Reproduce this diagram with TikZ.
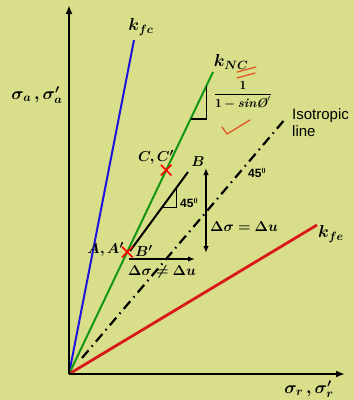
\documentclass[tikz,border=0pt]{standalone}
\usepackage{amsmath}
\usepackage{fontspec}
\usepackage{bm}
\newfontfamily\arial{Liberation Sans}
\usetikzlibrary{arrows.meta,calc,shapes.misc}
\definecolor{bg}{RGB}{217,222,138}
\definecolor{kblue}{RGB}{30,20,220}
\definecolor{kgreen}{RGB}{20,150,20}
\definecolor{kred}{RGB}{215,25,25}
\definecolor{pen}{RGB}{225,85,40}
\begin{document}
\begin{tikzpicture}[x=1pt,y=-1pt,
  lbl/.style={font=\fontsize{15}{17}\selectfont, inner sep=0pt},
  klbl/.style={font=\fontsize{16.5}{18}\selectfont, inner sep=0pt},
  small/.style={font=\fontsize{12.5}{14}\selectfont, inner sep=0pt},
  sans/.style={font=\arial\fontsize{15}{17}\selectfont, inner sep=0pt},
  sanssmall/.style={font=\arial\bfseries\fontsize{12}{14}\selectfont, inner sep=0pt},
  axis/.style={line width=2.2pt, -{Latex[length=9pt,width=7pt]}},
  kline/.style={line width=2pt},
  xmark/.style={cross out, draw=red, line width=1.6pt, minimum size=9pt, inner sep=0pt},
  dimarrow/.style={line width=1.8pt, -{Latex[length=7pt,width=5.5pt]}},
  penmark/.style={draw=pen, line width=1.3pt, line cap=round, line join=round}]
\fill[bg] (0,0) rectangle (354,400);
\useasboundingbox (0,0) rectangle (354,400);
% key points
\coordinate (O) at (69,374);
\coordinate (Ytop) at (69,5);
\coordinate (Xend) at (345,374);
\coordinate (FC) at (134,40);
\coordinate (NC) at (213,72);
\coordinate (FE) at (317,225);
\coordinate (I0) at (82,358);
\coordinate (I1) at (286,118);
\coordinate (Bp) at (130,251);
\coordinate (B) at (188,172);
% lines
\draw[kline, kblue] (O) -- (FC);
\draw[kline, kgreen] (O) -- (NC);
\draw[line width=2.8pt, kred] (O) -- (FE);
\draw[line width=2.2pt, dash pattern=on 10pt off 5pt on 1.5pt off 5pt] (I0) -- (I1);
\draw[axis] (O) -- (Ytop);
\draw[axis] (O) -- (Xend);
% stress path
\draw[kline] (Bp) -- (B);
\coordinate (t1) at ($(Bp)!0.55!(B)$);
\coordinate (t2) at ($(Bp)!0.80!(B)$);
\draw[line width=1.6pt] (t1) -- (t1 -| t2) -- (t2);
\coordinate (g1) at ($(O)!0.845!(NC)$);
\coordinate (g2) at ($(O)!0.955!(NC)$);
\draw[line width=1.6pt] (g1) -- (g1 -| g2) -- (g2);
% points
\node[xmark] (A) at ($(O)!0.404!(NC)$) {};
\node[xmark] (C) at ($(O)!0.675!(NC)$) {};
% arrows
\coordinate (v0) at (206,168);
\coordinate (v1) at (206,253);
\draw[dimarrow, {Latex[length=7pt,width=5.5pt]}-{Latex[length=7pt,width=5.5pt]}] (v0) -- (v1);
\coordinate (h0) at (129,259);
\coordinate (h1) at (195,259);
\draw[dimarrow] (h0) -- (h1);
% labels
\node[klbl] (lfc) at (141,27) {$\bm{k_{fc}}$};
\node[klbl] (lnc) at (231,62) {$\bm{k_{NC}}$};
\node[klbl] (lfe) at (331,234) {$\bm{k_{fe}}$};
\node[klbl] (lya) at (37,95) {$\bm{\sigma_a\,,\sigma'_a}$};
\node[klbl] (lxa) at (309,389) {$\bm{\sigma_r\,,\sigma'_r}$};
\node[lbl, anchor=east] (lA) at (124,249) {$\bm{A, A'}$};
\node[lbl, anchor=west] (lBp) at (135,251) {$\bm{B'}$};
\node[lbl] (lC) at (156,157) {$\bm{C, C'}$};
\node[lbl] (lB) at (198,162) {$\bm{B}$};
\node[lbl, anchor=west] (dv) at (210,227) {$\bm{\Delta\sigma = \Delta u}$};
\node[lbl, anchor=west] (dh) at (128,272) {$\bm{\Delta\sigma \neq \Delta u}$};
\node[sans, anchor=west, align=left] (iso) at (292,123) {Isotropic\\line};
\node[sanssmall, anchor=west] (a1) at (248,173) {45$^{\mathbf{0}}$};
\node[sanssmall, anchor=west] (a2) at (180,203) {45$^{\mathbf{0}}$};
\node[small] (frac) at (243,95) {$\dfrac{\mathbf{1}}{\mathbf{1}\boldsymbol{-}\text{\bfseries\itshape sin\O}'}$};
% pen annotations
\draw[penmark] (237,72) -- (256,67);
\draw[penmark] (237,78) -- (255,73);
\draw[penmark] (222,127) -- (227,134) -- (250,120);
\end{tikzpicture}
\end{document}
